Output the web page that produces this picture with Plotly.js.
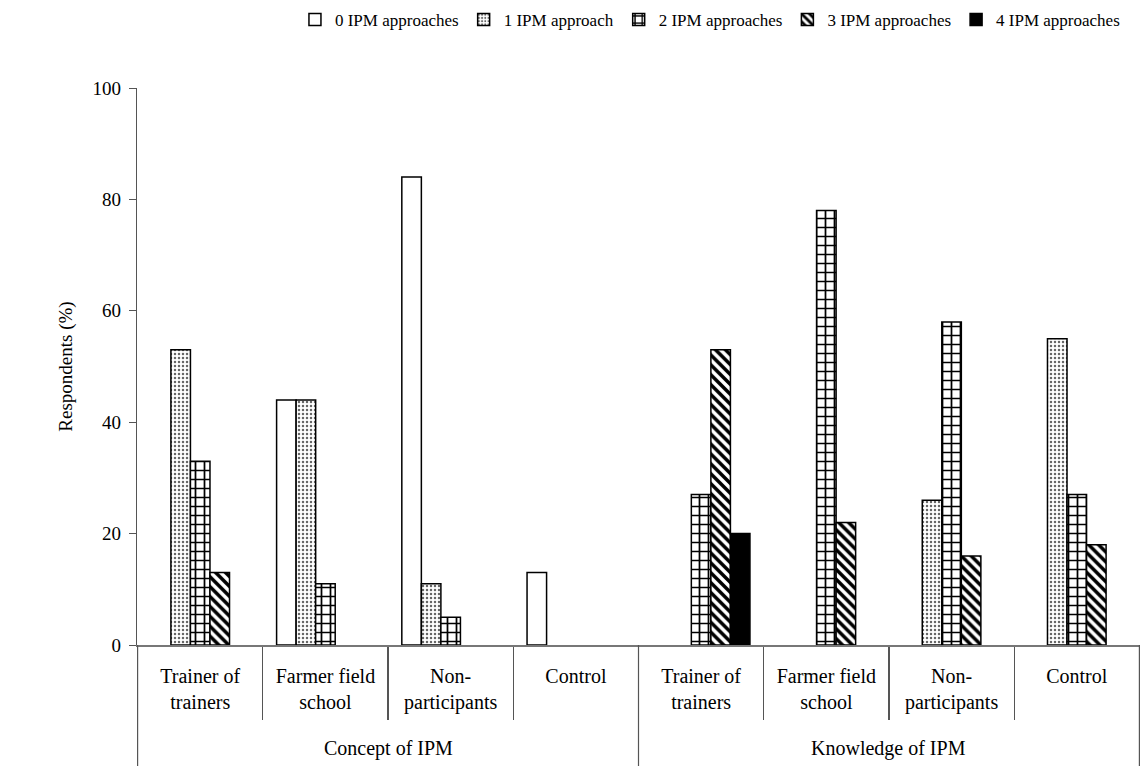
<!DOCTYPE html>
<html>
<head>
<meta charset="utf-8">
<script src="https://cdn.plot.ly/plotly-3.0.1.min.js"></script>
<style>html,body{margin:0;padding:0;background:#fff;}#chart{width:1140px;height:766px;}</style>
</head>
<body>
<div id="chart"></div>
<script>
const outerGroups = ["Concept of IPM", "Knowledge of IPM"];
const categories = ["Trainer of<br>trainers", "Farmer field<br>school", "Non-<br>participants", "Control"];
const seriesNames = ["0 IPM approaches", "1 IPM approach", "2 IPM approaches", "3 IPM approaches", "4 IPM approaches"];
// values per category: first 4 = Concept of IPM, last 4 = Knowledge of IPM
const ipm0 = [0, 44, 84, 13, 0, 0, 0, 0];
const ipm1 = [53, 44, 11, 0, 0, 0, 26, 55];
const ipm2 = [33, 11, 5, 0, 27, 78, 58, 27];
const ipm3 = [13, 0, 0, 0, 53, 22, 16, 18];
const ipm4 = [0, 0, 0, 0, 20, 0, 0, 0];
const yTicks = [0, 20, 40, 60, 80, 100];

// unique category keys (zero-width space marks the second group so labels can repeat)
const xKeys = [];
outerGroups.forEach((g, gi) => categories.forEach(c => xKeys.push(c + "\u200b".repeat(gi))));

const seriesValues = [ipm0, ipm1, ipm2, ipm3, ipm4];
const styles = [
  {color: "#ffffff", pattern: {shape: ""}},
  {color: "#ffffff", pattern: {shape: ".", fgcolor: "#666666", bgcolor: "#ffffff", size: 4, solidity: 0.3}},
  {color: "#ffffff", pattern: {shape: "+", fgcolor: "#000000", bgcolor: "#ffffff", size: 9, solidity: 0.35}},
  {color: "#ffffff", pattern: {shape: "\\", fgcolor: "#000000", bgcolor: "#ffffff", size: 7, solidity: 0.5}},
  {color: "#000000", pattern: {shape: ""}}
];

const traces = seriesValues.map((vals, i) => ({
  type: "bar",
  name: seriesNames[i],
  x: xKeys,
  y: vals.map(v => v === 0 ? null : v),
  marker: {color: styles[i].color, pattern: styles[i].pattern, line: {color: "#000000", width: 1.5}},
  hoverinfo: "y+name"
}));

const FAM = "'Liberation Serif', 'Times New Roman', serif";
const catFont = {family: FAM, size: 20, color: "#000"};

const nPer = categories.length;
const shapes = [];
for (let g = 0; g <= outerGroups.length; g++) {
  const pos = g * nPer - 0.5;
  shapes.push({type: "line", xref: "x", yref: "paper", x0: pos, x1: pos, y0: 0, y1: -0.23,
               line: {color: "#555", width: 1.2}});
}
const annotations = outerGroups.map((g, gi) => ({
  text: g, xref: "x", yref: "paper", x: gi * nPer + (nPer - 1) / 2, y: -0.185,
  showarrow: false, yanchor: "middle", font: catFont
}));

const layout = {
  width: 1140, height: 766,
  margin: {l: 137, r: 0, t: 88, b: 121},
  paper_bgcolor: "#fff", plot_bgcolor: "#fff",
  font: {family: FAM, size: 18, color: "#000"},
  barmode: "group",
  bargap: 0.22,
  bargroupgap: 0,
  showlegend: true,
  legend: {orientation: "h", xref: "paper", x: 0.985, xanchor: "right",
           yref: "container", y: 1 - 20 / 766, yanchor: "middle",
           font: {family: FAM, size: 17, color: "#000"}, itemwidth: 30, traceorder: "normal"},
  xaxis: {
    type: "category",
    showline: true, linecolor: "#777", linewidth: 1.5,
    ticks: "outside", tickson: "boundaries", ticklen: 73, tickcolor: "#555", tickwidth: 1.2,
    ticklabelstandoff: 12,
    tickfont: catFont, showgrid: false, zeroline: false, automargin: false
  },
  yaxis: {
    range: [0, 100], tickvals: yTicks, ticktext: yTicks.map(String),
    showline: true, linecolor: "#555", linewidth: 1.2,
    ticks: "outside", ticklen: 7, tickcolor: "#555",
    ticklabelstandoff: 4,
    showgrid: false, zeroline: false, automargin: false,
    tickfont: {family: FAM, size: 19, color: "#000"},
    title: {text: "Respondents (%)", font: {family: FAM, size: 19, color: "#000"}, standoff: 14}
  },
  shapes: shapes,
  annotations: annotations
};

Plotly.newPlot("chart", traces, layout, {displayModeBar: false, staticPlot: true});
</script>
</body>
</html>
